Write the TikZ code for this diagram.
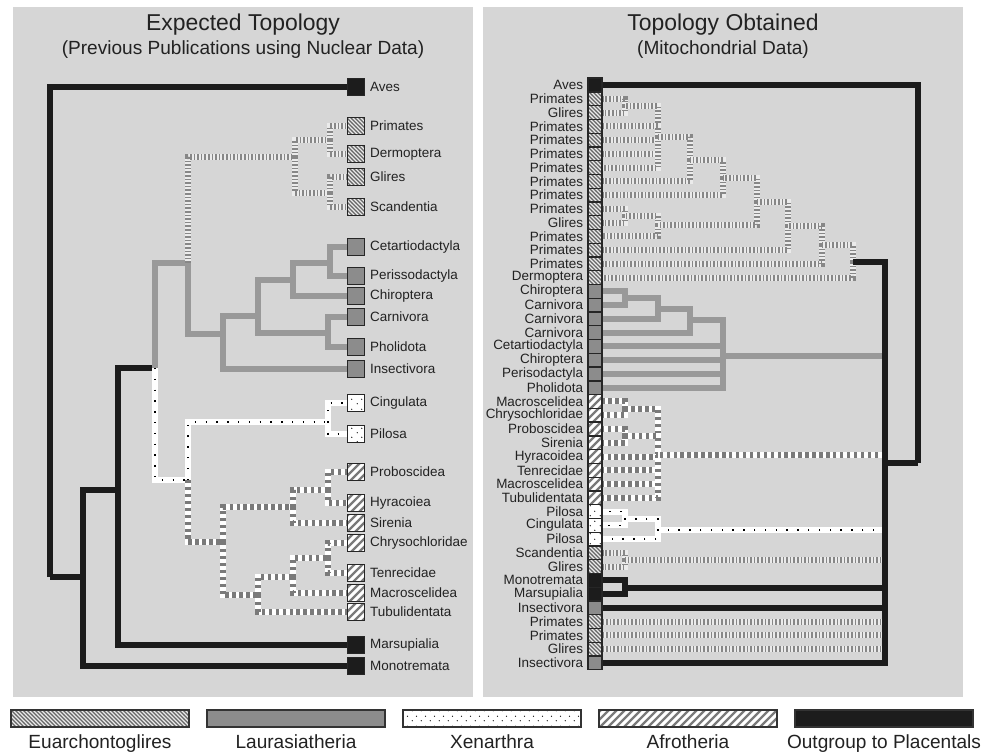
\documentclass[tikz,border=0pt]{standalone}
\usepackage{fontspec}
\setmainfont{Liberation Sans}
\usetikzlibrary{positioning,patterns}

\definecolor{panelgray}{HTML}{D6D6D6}
\definecolor{outgrp}{HTML}{1C1C1C}
\definecolor{laurgray}{HTML}{999999}
\definecolor{laurbox}{HTML}{8C8C8C}
\definecolor{stripegray}{HTML}{7A7A7A}
\definecolor{textgray}{HTML}{222222}

\pgfdeclarelayer{panel}
\pgfdeclarelayer{lines}
\pgfsetlayers{panel,lines,main}

% fill patterns of the clades
\pgfdeclarepatternformonly{euhatch}{\pgfqpoint{-1pt}{-1pt}}{\pgfqpoint{4pt}{4pt}}{\pgfqpoint{3pt}{3pt}}%
{\pgfsetlinewidth{1pt}\pgfpathmoveto{\pgfqpoint{0pt}{3pt}}\pgfpathlineto{\pgfqpoint{3.1pt}{-0.1pt}}\pgfusepath{stroke}}
\pgfdeclarepatternformonly{afhatch}{\pgfqpoint{-1pt}{-1pt}}{\pgfqpoint{7pt}{7pt}}{\pgfqpoint{6pt}{6pt}}%
{\pgfsetlinewidth{1.8pt}\pgfpathmoveto{\pgfqpoint{-0.1pt}{-0.1pt}}\pgfpathlineto{\pgfqpoint{6.1pt}{6.1pt}}\pgfusepath{stroke}}
\pgfdeclarepatternformonly{xedots}{\pgfqpoint{0pt}{0pt}}{\pgfqpoint{7pt}{7pt}}{\pgfqpoint{7pt}{7pt}}%
{\pgfpathcircle{\pgfqpoint{1.75pt}{1.75pt}}{0.5pt}\pgfpathcircle{\pgfqpoint{5.25pt}{5.25pt}}{0.5pt}\pgfusepath{fill}}

\tikzset{
  branch/.style={line width=4.5pt},
  outline/.style={branch, draw=outgrp},
  laurline/.style={branch, draw=laurgray},
  euline/.style={branch, draw=white!92!black, postaction={draw=stripegray!90, line width=4.5pt, dash pattern=on 1.2pt off 1.5pt}},
  afline/.style={branch, draw=white, postaction={draw=stripegray, line width=4.5pt, dash pattern=on 2.6pt off 2.6pt}},
  xeline/.style={branch, draw=white, postaction={draw=black, line width=1.1pt, dash pattern=on 1.1pt off 7pt}},
  tipbox/.style={draw=black!85, line width=1.2pt, inner sep=0pt, minimum size=12.75pt},
  rbox/.style={minimum width=10.5pt, minimum height=10.32pt, line width=1pt},
  legbox/.style={draw=black!80, line width=1.2pt, inner sep=0pt, minimum width=133.5pt, minimum height=12.75pt},
  ogbox/.style={fill=outgrp},
  eubox/.style={preaction={fill=white!92!black}, pattern=euhatch, pattern color=black!60},
  labox/.style={fill=laurbox},
  xebox/.style={preaction={fill=white}, pattern=xedots, pattern color=black},
  afbox/.style={preaction={fill=white}, pattern=afhatch, pattern color=stripegray},
  tiplabel/.style={inner sep=0pt, text=textgray, font=\fontsize{10.1pt}{12pt}\selectfont},
  heading/.style={text=textgray, font=\fontsize{17.2pt}{20pt}\selectfont},
  subheading/.style={text=textgray, font=\fontsize{14.3pt}{17pt}\selectfont},
  leglabel/.style={anchor=base, inner sep=0pt, text=textgray, font=\fontsize{14.3pt}{17pt}\selectfont}
}

\begin{document}
\begin{tikzpicture}[x=0.75pt, y=-0.75pt]
  \useasboundingbox (0,0) rectangle (988,751);
  \begin{pgfonlayer}{panel}
    \fill[white] (0,0) rectangle (988,751);
    \fill[panelgray] (13,7) rectangle (473,697);
    \fill[panelgray] (483,7) rectangle (963,697);
  \end{pgfonlayer}

  \node[heading] (lefttitle) at (243,25) {Expected Topology};
  \node[subheading] (leftsub) at (243,50) {(Previous Publications using Nuclear Data)};
  \node[heading] (righttitle) at (723,25) {Topology Obtained};
  \node[subheading] (rightsub) at (723,50) {(Mitochondrial Data)};

  % expected tree, tips
  \foreach \nm/\yy/\cl in {Aves/87/ogbox, Primates/126/eubox, Dermoptera/154/eubox, Glires/177/eubox,
      Scandentia/207/eubox, Cetartiodactyla/247/labox, Perissodactyla/276/labox, Chiroptera/296/labox,
      Carnivora/317/labox, Pholidota/347/labox, Insectivora/369/labox, Cingulata/403/xebox, Pilosa/434/xebox,
      Proboscidea/472/afbox, Hyracoiea/503/afbox, Sirenia/523/afbox, Chrysochloridae/543/afbox,
      Tenrecidae/573/afbox, Macroscelidea/593/afbox, Tubulidentata/612/afbox, Marsupialia/645/ogbox,
      Monotremata/666/ogbox}{
    \node[tipbox,\cl] (\nm) at (356,\yy) {};
    \node[tiplabel, right=3.5pt of \nm] {\nm};
  }

  % obtained tree, tips
  \foreach \nm/\cl [count=\i] in {Aves/ogbox, Primates/eubox, Glires/eubox, Primates/eubox, Primates/eubox,
      Primates/eubox, Primates/eubox, Primates/eubox, Primates/eubox, Primates/eubox, Glires/eubox,
      Primates/eubox, Primates/eubox, Primates/eubox, Dermoptera/eubox, Chiroptera/labox, Carnivora/labox,
      Carnivora/labox, Carnivora/labox, Cetartiodactyla/labox, Chiroptera/labox, Perisodactyla/labox,
      Pholidota/labox, Macroscelidea/afbox, Chrysochloridae/afbox, Proboscidea/afbox, Sirenia/afbox,
      Hyracoidea/afbox, Tenrecidae/afbox, Macroscelidea/afbox, Tubulidentata/afbox, Pilosa/xebox,
      Cingulata/xebox, Pilosa/xebox, Scandentia/eubox, Glires/eubox, Monotremata/ogbox, Marsupialia/ogbox,
      Insectivora/labox, Primates/eubox, Primates/eubox, Glires/eubox, Insectivora/labox}{
    \node[tipbox,rbox,\cl] (r\i) at (595,{85+(\i-1)*13.76}) {};
    \node[tiplabel, left=3pt of r\i] {\nm};
  }

  % expected tree, inner nodes
  \coordinate (root) at (50,577);
  \coordinate (mam) at (83,577);
  \coordinate (ther) at (118,490);
  \coordinate (euth) at (155,368);
  \coordinate (boreo) at (188,263);
  \coordinate (atl) at (188,480);
  \coordinate (euarch) at (295,157);
  \coordinate (eu1) at (330,140);
  \coordinate (eu2) at (330,193);
  \coordinate (laur) at (223,334);
  \coordinate (la1) at (258,316);
  \coordinate (la2) at (293,280);
  \coordinate (la3) at (330,263);
  \coordinate (la4) at (328,333);
  \coordinate (xen) at (328,422);
  \coordinate (afro) at (223,542);
  \coordinate (af1) at (293,507);
  \coordinate (af2) at (328,490);
  \coordinate (af3) at (258,595);
  \coordinate (af4) at (293,577);
  \coordinate (af5) at (328,558);

  % obtained tree, inner nodes
  \coordinate (rroot) at (918,463);
  \coordinate (rbase) at (885,463);
  \coordinate (e1) at (625,106);
  \coordinate (e2) at (658,137);
  \coordinate (e3) at (690,160);
  \coordinate (e4) at (723,178);
  \coordinate (e5) at (625,216);
  \coordinate (e6) at (658,225);
  \coordinate (e7) at (757,202);
  \coordinate (e8) at (788,226);
  \coordinate (e9) at (822,245);
  \coordinate (eu) at (853,262);
  \coordinate (l1) at (625,298);
  \coordinate (l2) at (658,309);
  \coordinate (l3) at (690,320);
  \coordinate (l4) at (723,356);
  \coordinate (a1) at (625,409);
  \coordinate (a2) at (625,436);
  \coordinate (a3) at (658,455);
  \coordinate (x1) at (625,519);
  \coordinate (x2) at (658,530);
  \coordinate (s1) at (625,560);
  \coordinate (mm) at (625,588);

  \begin{pgfonlayer}{lines}
    \draw[outline] (root) |- (Aves.west);
    \draw[outline] (root) |- (mam);
    \draw[outline] (mam) |- (ther);
    \draw[outline] (mam) |- (Monotremata.west);
    \draw[outline] (ther) |- (euth);
    \draw[outline] (ther) |- (Marsupialia.west);
    \draw[laurline] (euth) |- (boreo);
    \draw[laurline] (boreo) |- (laur);
    \draw[laurline] (laur) |- (la1);
    \draw[laurline] (laur) |- (Insectivora.west);
    \draw[laurline] (la1) |- (la2);
    \draw[laurline] (la1) |- (la4);
    \draw[laurline] (la2) |- (la3);
    \draw[laurline] (la2) |- (Chiroptera.west);
    \draw[laurline] (la3) |- (Cetartiodactyla.west);
    \draw[laurline] (la3) |- (Perissodactyla.west);
    \draw[laurline] (la4) |- (Carnivora.west);
    \draw[laurline] (la4) |- (Pholidota.west);
    \draw[euline] (boreo) |- (euarch);
    \draw[euline] (euarch) |- (eu1);
    \draw[euline] (euarch) |- (eu2);
    \draw[euline] (eu1) |- (Primates.west);
    \draw[euline] (eu1) |- (Dermoptera.west);
    \draw[euline] (eu2) |- (Glires.west);
    \draw[euline] (eu2) |- (Scandentia.west);
    \draw[xeline] (euth) |- (atl);
    \draw[xeline] (atl) |- (xen);
    \draw[xeline] (xen) |- (Cingulata.west);
    \draw[xeline] (xen) |- (Pilosa.west);
    \draw[afline] (atl) |- (afro);
    \draw[afline] (afro) |- (af1);
    \draw[afline] (afro) |- (af3);
    \draw[afline] (af1) |- (af2);
    \draw[afline] (af1) |- (Sirenia.west);
    \draw[afline] (af2) |- (Proboscidea.west);
    \draw[afline] (af2) |- (Hyracoiea.west);
    \draw[afline] (af3) |- (af4);
    \draw[afline] (af3) |- (Tubulidentata.west);
    \draw[afline] (af4) |- (af5);
    \draw[afline] (af4) |- (Macroscelidea.west);
    \draw[afline] (af5) |- (Chrysochloridae.west);
    \draw[afline] (af5) |- (Tenrecidae.west);

    \draw[euline] (e1) |- (r2.east);
    \draw[euline] (e1) |- (r3.east);
    \draw[euline] (e2) |- (e1);
    \foreach \t in {r4,r5,r6,r7} \draw[euline] (e2) |- (\t.east);
    \draw[euline] (e3) |- (e2);
    \draw[euline] (e3) |- (r8.east);
    \draw[euline] (e4) |- (e3);
    \draw[euline] (e4) |- (r9.east);
    \draw[euline] (e5) |- (r10.east);
    \draw[euline] (e5) |- (r11.east);
    \draw[euline] (e6) |- (e5);
    \draw[euline] (e6) |- (r12.east);
    \draw[euline] (e7) |- (e4);
    \draw[euline] (e7) |- (e6);
    \draw[euline] (e8) |- (e7);
    \draw[euline] (e8) |- (r13.east);
    \draw[euline] (e9) |- (e8);
    \draw[euline] (e9) |- (r14.east);
    \draw[euline] (eu) |- (e9);
    \draw[euline] (eu) |- (r15.east);
    \draw[laurline] (l1) |- (r16.east);
    \draw[laurline] (l1) |- (r17.east);
    \draw[laurline] (l2) |- (l1);
    \draw[laurline] (l2) |- (r18.east);
    \draw[laurline] (l3) |- (l2);
    \draw[laurline] (l3) |- (r19.east);
    \draw[laurline] (l4) |- (l3);
    \foreach \t in {r20,r21,r22,r23} \draw[laurline] (l4) |- (\t.east);
    \draw[laurline] (rbase |- l4) -- (l4);
    \draw[afline] (a1) |- (r24.east);
    \draw[afline] (a1) |- (r25.east);
    \draw[afline] (a2) |- (r26.east);
    \draw[afline] (a2) |- (r27.east);
    \draw[afline] (a3) |- (a1);
    \draw[afline] (a3) |- (a2);
    \foreach \t in {r28,r29,r30,r31} \draw[afline] (a3) |- (\t.east);
    \draw[afline] (rbase |- a3) -- (a3);
    \draw[xeline] (x1) |- (r32.east);
    \draw[xeline] (x1) |- (r33.east);
    \draw[xeline] (x2) |- (x1);
    \draw[xeline] (x2) |- (r34.east);
    \draw[xeline] (rbase |- x2) -- (x2);
    \draw[euline] (s1) |- (r35.east);
    \draw[euline] (s1) |- (r36.east);
    \draw[euline] (rbase |- s1) -- (s1);
    \foreach \t in {r40,r41,r42} \draw[euline] (rbase |- \t) -- (\t.east);
    \draw[outline] (mm) |- (r37.east);
    \draw[outline] (mm) |- (r38.east);
    \draw[outline] (rbase |- mm) -- (mm);
    \draw[outline] (rbase |- r39) -- (r39.east);
    \draw[outline] (rroot) |- (r1.east);
    \draw[outline] (rroot) |- (rbase);
    \draw[outline] (eu) -| (rbase) |- (r43.east);
  \end{pgfonlayer}

  % legend
  \foreach \nm/\cl/\xx in {Euarchontoglires/eubox/100, Laurasiatheria/labox/296, Xenarthra/xebox/492,
      Afrotheria/afbox/688, Outgroup to Placentals/ogbox/884}{
    \node[legbox,\cl] (key\xx) at (\xx,718.5) {};
    \node[leglabel] at (\xx,748) {\nm};
  }
\end{tikzpicture}
\end{document}
